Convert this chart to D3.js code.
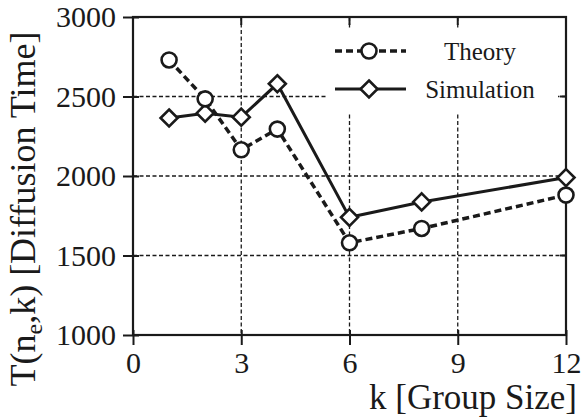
<!DOCTYPE html>
<html>
<head>
<meta charset="utf-8">
<script src="https://cdn.jsdelivr.net/npm/d3@7"></script>
<style>
  body { margin: 0; background: #fff; }
  svg { display: block; }
</style>
</head>
<body>
<svg id="chart" width="582" height="417"></svg>
<script>
// ---- data ----
const kValues = [1, 2, 3, 4, 6, 8, 12];
const theory = [2730, 2485, 2165, 2295, 1580, 1670, 1880];
const simulation = [2365, 2395, 2370, 2580, 1740, 1837, 1990];
const xTicks = [0, 3, 6, 9, 12];
const yTicks = [1000, 1500, 2000, 2500, 3000];
const seriesNames = ["Theory", "Simulation"];

// ---- layout ----
const FONT = "Liberation Serif, Tinos, Times New Roman, Times, DejaVu Serif, serif";
const svg = d3.select("#chart").attr("font-family", FONT);
const L = 133, R = 566, T = 17, B = 335;
const x = d3.scaleLinear().domain([0, 12]).range([L, R]);
const y = d3.scaleLinear().domain([1000, 3000]).range([B, T]);
const ink = "#1a1a1a";

// grid
const grid = svg.append("g");
grid.selectAll("line.gx").data(xTicks.filter(d => d > 0 && d < 12)).join("line")
  .attr("x1", d => x(d)).attr("x2", d => x(d)).attr("y1", T).attr("y2", B)
  .attr("stroke", ink).attr("stroke-width", 1.3).attr("stroke-dasharray", "4,2.5");
grid.selectAll("line.gy").data(yTicks.filter(d => d > 1000 && d < 3000)).join("line")
  .attr("y1", d => y(d)).attr("y2", d => y(d)).attr("x1", L).attr("x2", R)
  .attr("stroke", ink).attr("stroke-width", 1.3).attr("stroke-dasharray", "4,2.5");

// legend background
svg.append("rect").attr("x", 327).attr("y", 28).attr("width", 231).attr("height", 84).attr("fill", "#fff");

// axes
const xAxis = svg.append("g").attr("transform", `translate(0,${B})`)
  .call(d3.axisBottom(x).tickValues(xTicks).tickSize(10).tickSizeOuter(0).tickFormat(d3.format("d")));
xAxis.attr("font-family", FONT).attr("font-size", 30);
xAxis.select(".domain").remove();
xAxis.selectAll(".tick line").attr("y1", -5).attr("y2", 10).attr("stroke", ink).attr("stroke-width", 2);
xAxis.selectAll(".tick text").attr("y", 38).attr("dy", 0).attr("fill", ink);

const yAxis = svg.append("g").attr("transform", `translate(${L},0)`)
  .call(d3.axisLeft(y).tickValues(yTicks).tickSize(10).tickSizeOuter(0).tickFormat(d3.format("d")));
yAxis.attr("font-family", FONT).attr("font-size", 30);
yAxis.select(".domain").remove();
yAxis.selectAll(".tick line").attr("x1", 6).attr("x2", -10).attr("stroke", ink).attr("stroke-width", 2);
yAxis.selectAll(".tick text").attr("x", -17).attr("dy", "0.33em").attr("fill", ink);

// top & right inward ticks
svg.append("g").selectAll("line").data(xTicks.filter(d => d > 0 && d < 12)).join("line")
  .attr("x1", d => x(d)).attr("x2", d => x(d)).attr("y1", T).attr("y2", T + 8)
  .attr("stroke", ink).attr("stroke-width", 2);
svg.append("g").selectAll("line").data(yTicks.filter(d => d > 1000 && d < 3000)).join("line")
  .attr("y1", d => y(d)).attr("y2", d => y(d)).attr("x1", R - 6).attr("x2", R)
  .attr("stroke", ink).attr("stroke-width", 2);

// frame
svg.append("rect").attr("x", L).attr("y", T).attr("width", R - L).attr("height", B - T)
  .attr("fill", "none").attr("stroke", ink).attr("stroke-width", 2.2);

// series
const line = d3.line().x(d => x(d[0])).y(d => y(d[1]));
const thData = kValues.map((k, i) => [k, theory[i]]);
const siData = kValues.map((k, i) => [k, simulation[i]]);

svg.append("path").datum(thData).attr("d", line).attr("fill", "none")
  .attr("stroke", ink).attr("stroke-width", 3.5).attr("stroke-dasharray", "7,4");
svg.append("path").datum(siData).attr("d", line).attr("fill", "none")
  .attr("stroke", ink).attr("stroke-width", 3);

const diamond = (cx, cy, s) => `M${cx},${cy - s}L${cx + s},${cy}L${cx},${cy + s}L${cx - s},${cy}Z`;

svg.append("g").selectAll("path").data(siData).join("path")
  .attr("d", d => diamond(x(d[0]), y(d[1]), 8.5))
  .attr("fill", "#fff").attr("stroke", ink).attr("stroke-width", 2.6);
svg.append("g").selectAll("circle").data(thData).join("circle")
  .attr("cx", d => x(d[0])).attr("cy", d => y(d[1])).attr("r", 7.5)
  .attr("fill", "#fff").attr("stroke", ink).attr("stroke-width", 2.6);

// legend
const lg = svg.append("g");
lg.append("line").attr("x1", 335).attr("x2", 406).attr("y1", 51).attr("y2", 51)
  .attr("stroke", ink).attr("stroke-width", 3.5).attr("stroke-dasharray", "7,4");
lg.append("circle").attr("cx", 369).attr("cy", 51).attr("r", 7.5)
  .attr("fill", "#fff").attr("stroke", ink).attr("stroke-width", 2.6);
lg.append("line").attr("x1", 335).attr("x2", 406).attr("y1", 89).attr("y2", 89)
  .attr("stroke", ink).attr("stroke-width", 3);
lg.append("path").attr("d", diamond(369, 89, 8.5))
  .attr("fill", "#fff").attr("stroke", ink).attr("stroke-width", 2.6);
lg.append("text").attr("x", 480).attr("y", 60).attr("text-anchor", "middle")
  .attr("font-size", 25).attr("fill", ink).text(seriesNames[0]);
lg.append("text").attr("x", 480).attr("y", 98).attr("text-anchor", "middle")
  .attr("font-size", 25).attr("fill", ink).text(seriesNames[1]);

// axis titles
svg.append("text").attr("x", 577).attr("y", 409).attr("text-anchor", "end")
  .attr("font-size", 35).attr("fill", ink).text("k [Group Size]");

const yt = svg.append("text").attr("transform", "translate(35,209) rotate(-90)")
  .attr("text-anchor", "middle").attr("font-size", 36).attr("fill", ink);
yt.append("tspan").text("T(n");
yt.append("tspan").attr("dy", 7).attr("font-size", 24).text("e");
yt.append("tspan").attr("dy", -7).text(",k) [Diffusion Time]");
</script>
</body>
</html>
